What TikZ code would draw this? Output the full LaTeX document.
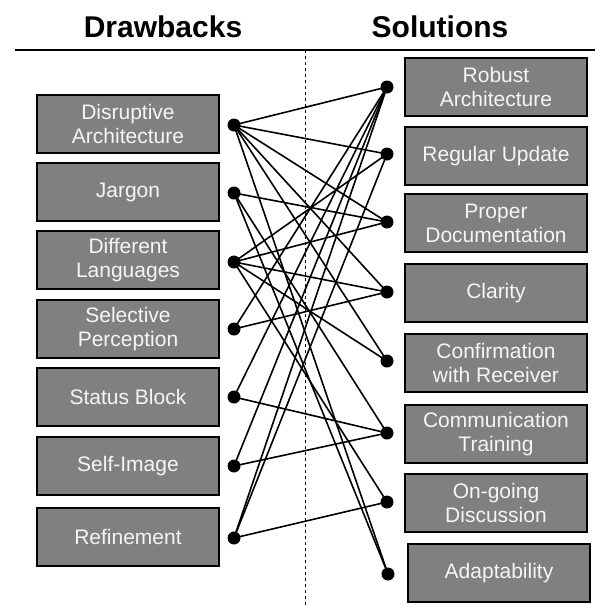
\documentclass[tikz,border=0pt]{standalone}
\usepackage{fontspec}
\setmainfont{Liberation Sans}
\usepackage{xcolor}
\usepackage{tikz}
\usetikzlibrary{positioning}
\definecolor{boxgray}{RGB}{128,128,128}
\definecolor{boxtext}{RGB}{245,245,245}
\tikzset{
  box/.style = {draw=black, line width=2.2pt, fill=boxgray, text=boxtext, minimum width=182pt, minimum height=58pt, align=center, font=\fontsize{21}{24}\selectfont, inner sep=2pt},
  dot/.style = {circle, fill=black, inner sep=0pt, minimum size=13pt},
  head/.style = {font=\fontsize{30}{34}\selectfont\bfseries},
  link/.style = {line width=1.6pt}
}
\begin{document}
\begin{tikzpicture}[x=1pt,y=-1pt]
  \useasboundingbox (0,0) rectangle (595,606);
  % headings
  \node[head] (hd) at (163,27) {Drawbacks};
  \node[head] (hs) at (440,27) {Solutions};
  \draw[line width=1.2pt] (15,50) -- (595,50);
  \draw[dashed, line width=1pt] (305,50) -- (305,606);
  % drawbacks
  \node[box] (b1) at (128,124) {Disruptive\\Architecture};
  \node[box] (b2) at (128,192) {Jargon};
  \node[box] (b3) at (128,260) {Different\\Languages};
  \node[box] (b4) at (128,329) {Selective\\Perception};
  \node[box] (b5) at (128,397) {Status Block};
  \node[box] (b6) at (128,466) {Self-Image};
  \node[box] (b7) at (128,537) {Refinement};
  % solutions
  \node[box] (s1) at (496,87) {Robust\\Architecture};
  \node[box] (s2) at (496,156) {Regular Update};
  \node[box] (s3) at (496,223) {Proper\\Documentation};
  \node[box] (s4) at (496,293) {Clarity};
  \node[box] (s5) at (496,363) {Confirmation\\with Receiver};
  \node[box] (s6) at (496,434) {Communication\\Training};
  \node[box] (s7) at (496,503) {On-going\\Discussion};
  \node[box] (s8) at (499,573) {Adaptability};
  % dots
  \node[dot] (d1) at (234,125) {};
  \node[dot] (d2) at (234,193) {};
  \node[dot] (d3) at (234,262) {};
  \node[dot] (d4) at (234,329) {};
  \node[dot] (d5) at (234,397) {};
  \node[dot] (d6) at (234,466) {};
  \node[dot] (d7) at (234,538) {};
  \node[dot] (r1) at (387,87) {};
  \node[dot] (r2) at (387,154) {};
  \node[dot] (r3) at (387,222) {};
  \node[dot] (r4) at (387,292) {};
  \node[dot] (r5) at (387,361) {};
  \node[dot] (r6) at (387,433) {};
  \node[dot] (r7) at (387,502) {};
  \node[dot] (r8) at (388,574) {};
  % links
  \draw[link] (d1.center) -- (r1.center);
  \draw[link] (d1.center) -- (r2.center);
  \draw[link] (d1.center) -- (r3.center);
  \draw[link] (d1.center) -- (r4.center);
  \draw[link] (d1.center) -- (r5.center);
  \draw[link] (d1.center) -- (r8.center);
  \draw[link] (d2.center) -- (r3.center);
  \draw[link] (d2.center) -- (r6.center);
  \draw[link] (d2.center) -- (r8.center);
  \draw[link] (d3.center) -- (r2.center);
  \draw[link] (d3.center) -- (r3.center);
  \draw[link] (d3.center) -- (r4.center);
  \draw[link] (d3.center) -- (r5.center);
  \draw[link] (d3.center) -- (r7.center);
  \draw[link] (d4.center) -- (r1.center);
  \draw[link] (d4.center) -- (r4.center);
  \draw[link] (d5.center) -- (r1.center);
  \draw[link] (d5.center) -- (r6.center);
  \draw[link] (d6.center) -- (r1.center);
  \draw[link] (d6.center) -- (r6.center);
  \draw[link] (d7.center) -- (r1.center);
  \draw[link] (d7.center) -- (r2.center);
  \draw[link] (d7.center) -- (r7.center);
\end{tikzpicture}
\end{document}
